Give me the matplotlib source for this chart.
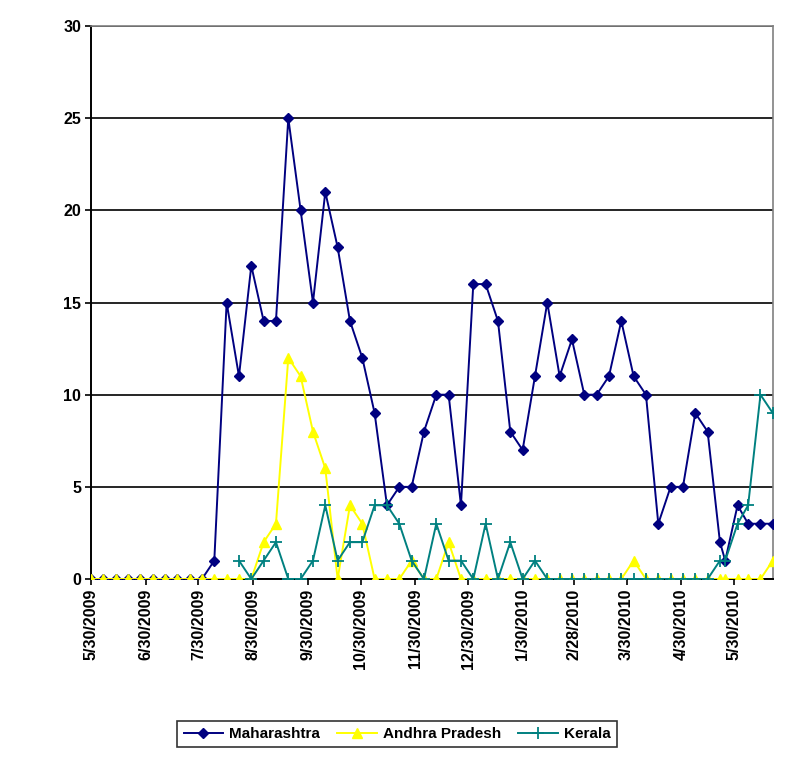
import numpy as np
import pandas as pd
import matplotlib
matplotlib.use("Agg")
import matplotlib.pyplot as plt

plt.rcParams['font.family'] = ['Liberation Sans', 'DejaVu Sans']

dates = pd.to_datetime([
    "2009-05-30", "2009-06-06", "2009-06-13", "2009-06-20", "2009-06-27",
    "2009-07-04", "2009-07-11", "2009-07-18", "2009-07-25", "2009-08-01",
    "2009-08-08", "2009-08-15", "2009-08-22", "2009-08-29", "2009-09-05",
    "2009-09-12", "2009-09-19", "2009-09-26", "2009-10-03", "2009-10-10",
    "2009-10-17", "2009-10-24", "2009-10-31", "2009-11-07", "2009-11-14",
    "2009-11-21", "2009-11-28", "2009-12-05", "2009-12-12", "2009-12-19",
    "2009-12-26", "2010-01-02", "2010-01-09", "2010-01-16", "2010-01-23",
    "2010-01-30", "2010-02-06", "2010-02-13", "2010-02-20", "2010-02-27",
    "2010-03-06", "2010-03-13", "2010-03-20", "2010-03-27", "2010-04-03",
    "2010-04-10", "2010-04-17", "2010-04-24", "2010-05-01", "2010-05-08",
    "2010-05-15", "2010-05-22", "2010-05-25", "2010-06-01", "2010-06-07",
    "2010-06-14", "2010-06-21",
])

maharashtra = [0, 0, 0, 0, 0, 0, 0, 0, 0, 0,
               1, 15, 11, 17, 14, 14, 25, 20, 15, 21, 18, 14, 12, 9, 4, 5, 5, 8, 10, 10,
               4, 16, 16, 14, 8, 7, 11, 15, 11, 13, 10, 10, 11, 14, 11, 10, 3, 5, 5, 9, 8,
               2, 1, 4, 3, 3, 3]

andhra = [0, 0, 0, 0, 0, 0, 0, 0, 0, 0,
          0, 0, 0, 0, 2, 3, 12, 11, 8, 6, 0, 4, 3, 0, 0, 0, 1, 0, 0, 2,
          0, 0, 0, 0, 0, 0, 0, 0, 0, 0, 0, 0, 0, 0, 1, 0, 0, 0, 0, 0, 0,
          0, 0, 0, 0, 0, 1]

kerala = [np.nan] * 12 + [
          1, 0, 1, 2, 0, 0, 1, 4, 1, 2, 2, 4, 4, 3, 1, 0, 3, 1,
          1, 0, 3, 0, 2, 0, 1, 0, 0, 0, 0, 0, 0, 0, 0, 0, 0, 0, 0, 0, 0,
          1, 1, 3, 4, 10, 9]

tick_dates = pd.to_datetime([
    "2009-05-30", "2009-06-30", "2009-07-30", "2009-08-30", "2009-09-30",
    "2009-10-30", "2009-11-30", "2009-12-30", "2010-01-30", "2010-02-28",
    "2010-03-30", "2010-04-30", "2010-05-30",
])

fig = plt.figure(figsize=(7.91, 7.81), dpi=100)
ax = fig.add_axes([0.115, 0.2586, 0.862, 0.7081])

ax.plot(dates, maharashtra, color="#000080", marker="D", markersize=5, lw=1.4,
        label="Maharashtra", zorder=3)
ax.plot(dates, andhra, color="#FFFF00", marker="^", markersize=6.5, lw=1.4,
        label="Andhra Pradesh", zorder=4)
ax.plot(dates, kerala, color="#008080", marker="+", markersize=8, mew=1.3, lw=1.4,
        label="Kerala", zorder=5)

ax.set_xlim(dates[0], dates[-1])
ax.set_ylim(0, 30)
ax.set_yticks(range(0, 31, 5))
ax.yaxis.grid(True, color="black", lw=1.2)
ax.set_axisbelow(True)

ax.set_xticks(tick_dates)
ax.set_xticklabels([f"{d.month}/{d.day}/{d.year}" for d in tick_dates],
                   rotation=90, fontsize=11.5, fontweight="bold")
for lab in ax.get_yticklabels():
    lab.set_fontsize(11.5)
    lab.set_fontweight("bold")
ax.tick_params(axis="both", direction="out", length=4, width=1.2, color="black",
               pad=3)

for side in ["top", "right"]:
    ax.spines[side].set_color("#808080")
    ax.spines[side].set_linewidth(1.2)
for side in ["left", "bottom"]:
    ax.spines[side].set_color("black")
    ax.spines[side].set_linewidth(1.4)

leg = fig.legend(loc="center", bbox_to_anchor=(0.502, 0.06), ncol=3,
                 prop={"weight": "bold", "size": 11}, frameon=True,
                 fancybox=False, edgecolor="black", handlelength=2.6,
                 columnspacing=1.1, handletextpad=0.4, borderpad=0.4)
leg.get_frame().set_linewidth(1.2)

fig.savefig("out.png", dpi=100)
